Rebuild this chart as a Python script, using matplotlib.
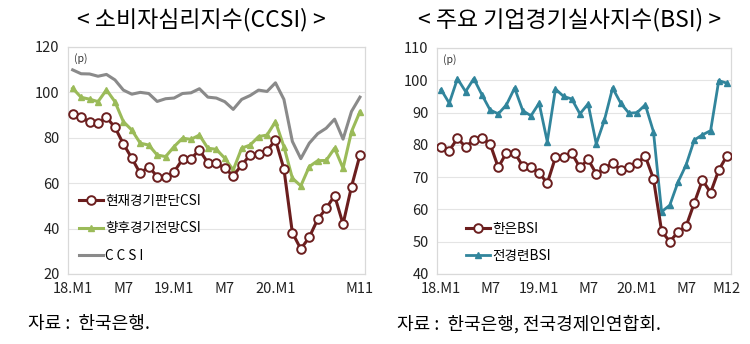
from matplotlib import pyplot as plt
import numpy as np

plt.rcParams['font.family'] = ['Noto Sans CJK KR', 'DejaVu Sans']

#%% data - left chart (CCSI), 18.M1 ~ 20.M11
ccsi_ticks = [0, 6, 12, 18, 24, 34]
ccsi_ticklabels = ['18.M1', 'M7', '19.M1', 'M7', '20.M1', 'M11']

current_csi = [90.5, 89, 87, 86.4, 89, 84.6, 77.3, 71, 64.3, 67.3, 62.9, 62.6,
               65, 70.5, 70.8, 74.6, 69, 68.8, 66.6, 63.2, 68, 72.4, 72.9, 74.3,
               79, 66.3, 38.2, 31, 36.2, 44.1, 48.9, 54.5, 42, 58.5, 72.4]
outlook_csi = [101.8, 97.8, 97, 95.9, 101.1, 95.9, 87.1, 83.4, 77.6, 76.8, 72.4, 71.7,
               76.1, 79.8, 79.3, 81.2, 75.4, 74.9, 71, 65.8, 75.4, 76.8, 80.5, 81.2,
               87.1, 76.1, 62.2, 58.8, 67.3, 69.9, 70, 75.4, 66.6, 82.7, 91.5]
ccsi = [109.9, 108.2, 108.1, 107.1, 107.9, 105.5, 101.0, 99.2, 100.0, 99.5, 96.0, 97.2,
        97.5, 99.5, 99.8, 101.6, 97.9, 97.5, 95.9, 92.5, 96.9, 98.6, 101.0, 100.4,
        104.2, 96.9, 78.4, 70.8, 77.6, 81.8, 84.2, 88.2, 79.4, 91.6, 97.9]

#%% data - right chart (BSI), 18.M1 ~ 20.M12
bsi_ticks = [0, 6, 12, 18, 24, 30, 35]
bsi_ticklabels = ['18.M1', 'M7', '19.M1', 'M7', '20.M1', 'M7', 'M12']

bok_bsi = [79.4, 78.2, 82, 79.4, 81.5, 82, 80.3, 73, 77.6, 77.6, 73.4, 73,
           71.4, 68.1, 76.1, 76.3, 77.4, 73, 75.5, 71, 72.7, 74.3, 72.2, 73.2,
           74.3, 76.5, 69.5, 53.3, 50, 53, 54.8, 62, 69.1, 65.2, 72.2, 76.6]
fki_bsi = [97.1, 92.9, 100.5, 96.5, 100.5, 95.5, 90.8, 89.6, 92.4, 97.6, 90.6, 89,
           92.9, 81, 97.3, 95, 94.2, 89.6, 92.7, 80.3, 87.7, 97.6, 92.9, 89.8,
           90, 92.4, 84.1, 59.3, 61.3, 68.4, 73.8, 81.5, 83.1, 84.4, 99.9, 99.1]

RED = '#6b1e1e'
GREEN = '#9bbb59'
GREY = '#8a8a8a'
TEAL = '#31859c'
FRAME = '#d9d9d9'


def style_ax(ax, ylim, yticks, xlim, xticks, xlabels):
  ax.set_ylim(*ylim)
  ax.set_yticks(yticks)
  ax.set_xlim(*xlim)
  ax.set_xticks(xticks)
  ax.set_xticklabels(xlabels)
  ax.tick_params(length=0, labelsize=10.5, colors='#222222', pad=6)
  ax.grid(axis='y', color='#e4e4e4', lw=0.8)
  ax.set_axisbelow(True)
  for s in ax.spines.values():
    s.set_color(FRAME)
    s.set_linewidth(0.9)
  ax.text(0.02, 0.975, '(p)', transform=ax.transAxes, fontsize=7.5, va='top', color='#333333')


fig = plt.figure(figsize=(7.5, 3.44), dpi=100)
ax1 = fig.add_axes([0.0907, 0.2035, 0.396, 0.66])
ax2 = fig.add_axes([0.5827, 0.2035, 0.392, 0.657])

#%% left
x1 = np.arange(len(ccsi))
ax1.plot(x1, current_csi, color=RED, lw=2.2, marker='o', ms=6.2, mfc='white',
         mec=RED, mew=1.4, label='현재경기판단CSI', zorder=4)
ax1.plot(x1, outlook_csi, color=GREEN, lw=2.2, marker='^', ms=5, mfc=GREEN,
         mec=GREEN, label='향후경기전망CSI', zorder=3)
ax1.plot(x1, ccsi, color=GREY, lw=2.2, label='C C S I', zorder=2)
style_ax(ax1, (20, 120), range(20, 121, 20), (-0.55, 34.6), ccsi_ticks, ccsi_ticklabels)
ax1.legend(loc='lower left', bbox_to_anchor=(0.0, 0.0), frameon=False, fontsize=9.8,
           handlelength=1.8, handletextpad=0.15, labelspacing=1.0, borderaxespad=0.4)

#%% right
x2 = np.arange(len(bok_bsi))
ax2.plot(x2, bok_bsi, color=RED, lw=2.2, marker='o', ms=6.2, mfc='white',
         mec=RED, mew=1.4, label='한은BSI', zorder=4)
ax2.plot(x2, fki_bsi, color=TEAL, lw=2.0, marker='^', ms=5, mfc=TEAL,
         mec=TEAL, label='전경련BSI', zorder=3)
style_ax(ax2, (40, 110), range(40, 111, 10), (-0.5, 35.5), bsi_ticks, bsi_ticklabels)
ax2.legend(loc='lower left', bbox_to_anchor=(0.06, 0.0), frameon=False, fontsize=9.8,
           handlelength=1.8, handletextpad=0.15, labelspacing=0.95, borderaxespad=0.4)

#%% titles and sources
fig.text(0.268, 0.942, '< 소비자심리지수(CCSI) >', ha='center', va='center', fontsize=16.5)
fig.text(0.759, 0.942, '< 주요 기업경기실사지수(BSI) >', ha='center', va='center', fontsize=16.5)
fig.text(0.037, 0.058, '자료 :  한국은행.', fontsize=13, va='center')
fig.text(0.529, 0.058, '자료 :  한국은행, 전국경제인연합회.', fontsize=13, va='center')

fig.savefig('out.png', dpi=100)
